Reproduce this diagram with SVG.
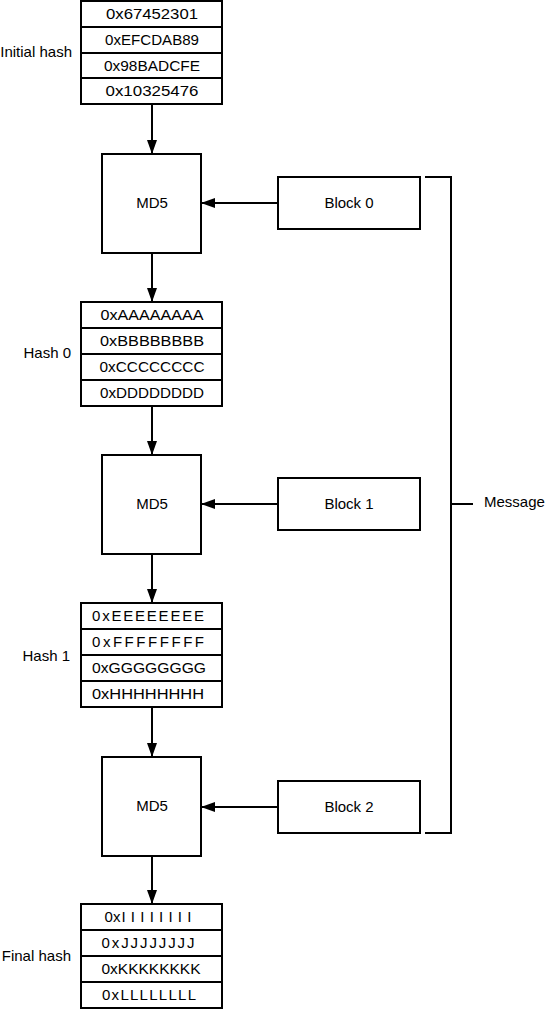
<svg xmlns="http://www.w3.org/2000/svg" width="545" height="1011" viewBox="0 0 545 1011">
<style>
.box{fill:#fff;stroke:#000;stroke-width:2}
.ln{fill:none;stroke:#000;stroke-width:2}
text{font-family:"Liberation Sans",Arial,sans-serif;font-size:15px;fill:#000}
.c{text-anchor:middle}
.lbl{text-anchor:end}
</style>
<defs>
<marker id="ah" markerUnits="userSpaceOnUse" markerWidth="14" markerHeight="10" refX="14" refY="5" orient="auto">
<path d="M0,0 L14,5 L0,10 z" fill="#000"/>
</marker>
</defs>
<g id="initial-hash">
<rect class="box" x="81" y="1" width="141" height="103"/>
<path class="ln" d="M81,27H222M81,53H222M81,78H222"/>
<text class="c" x="152" y="19" textLength="92" lengthAdjust="spacingAndGlyphs">0x67452301</text>
<text class="c" x="152" y="45" textLength="94" lengthAdjust="spacingAndGlyphs">0xEFCDAB89</text>
<text class="c" x="152" y="71" textLength="96" lengthAdjust="spacingAndGlyphs">0x98BADCFE</text>
<text class="c" x="152" y="96" textLength="93" lengthAdjust="spacingAndGlyphs">0x10325476</text>
<text class="lbl" x="72" y="57">Initial hash</text>
</g>
<g id="md5-0">
<rect class="box" x="102" y="154" width="99" height="99"/>
<text class="c" x="152" y="208">MD5</text>
</g>
<g id="block-0">
<rect class="box" x="278" y="177" width="142" height="52"/>
<text class="c" x="349" y="208">Block 0</text>
</g>
<g id="hash-0">
<rect class="box" x="81" y="302" width="141" height="104"/>
<path class="ln" d="M81,328H222M81,354H222M81,380H222"/>
<text class="c" x="152" y="320" textLength="103" lengthAdjust="spacingAndGlyphs">0xAAAAAAAA</text>
<text class="c" x="152" y="346" textLength="104" lengthAdjust="spacingAndGlyphs">0xBBBBBBBB</text>
<text class="c" x="152" y="372" textLength="105" lengthAdjust="spacingAndGlyphs">0xCCCCCCCC</text>
<text class="c" x="152" y="398" textLength="104" lengthAdjust="spacingAndGlyphs">0xDDDDDDDD</text>
<text class="lbl" x="71" y="358">Hash 0</text>
</g>
<g id="md5-1">
<rect class="box" x="102" y="455" width="99" height="99"/>
<text class="c" x="152" y="509">MD5</text>
</g>
<g id="block-1">
<rect class="box" x="278" y="478" width="142" height="52"/>
<text class="c" x="349" y="509">Block 1</text>
</g>
<g id="hash-1">
<rect class="box" x="81" y="603" width="141" height="104"/>
<path class="ln" d="M81,629H222M81,655H222M81,681H222"/>
<text class="c" x="148" y="621" textLength="112">0xEEEEEEEE</text>
<text class="c" x="148" y="647" textLength="112">0xFFFFFFFF</text>
<text class="c" x="149" y="673" textLength="114" lengthAdjust="spacingAndGlyphs">0xGGGGGGGG</text>
<text class="c" x="148" y="699" textLength="112" lengthAdjust="spacingAndGlyphs">0xHHHHHHHH</text>
<text class="lbl" x="70" y="661">Hash 1</text>
</g>
<g id="md5-2">
<rect class="box" x="102" y="757" width="99" height="99"/>
<text class="c" x="152" y="811">MD5</text>
</g>
<g id="block-2">
<rect class="box" x="278" y="781" width="142" height="52"/>
<text class="c" x="349" y="812">Block 2</text>
</g>
<g id="final-hash">
<rect class="box" x="81" y="904" width="141" height="104"/>
<path class="ln" d="M81,930H222M81,956H222M81,982H222"/>
<text class="c" x="148" y="922"><tspan>0x</tspan><tspan dx="1" textLength="70">IIIIIIII</tspan></text>
<text class="c" x="148" y="948" textLength="93">0xJJJJJJJJ</text>
<text class="c" x="151" y="974" textLength="99" lengthAdjust="spacingAndGlyphs">0xKKKKKKKK</text>
<text class="c" x="149" y="1000" textLength="94">0xLLLLLLLL</text>
<text class="lbl" x="71" y="961">Final hash</text>
</g>
<g id="message">
<text x="484" y="507">Message</text>
</g>
<g id="connectors">
<path class="ln" d="M152,104V154" marker-end="url(#ah)"/>
<path class="ln" d="M152,253V302" marker-end="url(#ah)"/>
<path class="ln" d="M152,406V455" marker-end="url(#ah)"/>
<path class="ln" d="M152,554V603" marker-end="url(#ah)"/>
<path class="ln" d="M152,707V757" marker-end="url(#ah)"/>
<path class="ln" d="M152,856V904" marker-end="url(#ah)"/>
<path class="ln" d="M278,203H201" marker-end="url(#ah)"/>
<path class="ln" d="M278,504H201" marker-end="url(#ah)"/>
<path class="ln" d="M278,807H201" marker-end="url(#ah)"/>
<path class="ln" d="M425,177H451V833H425M451,504H473"/>
</g>
</svg>
